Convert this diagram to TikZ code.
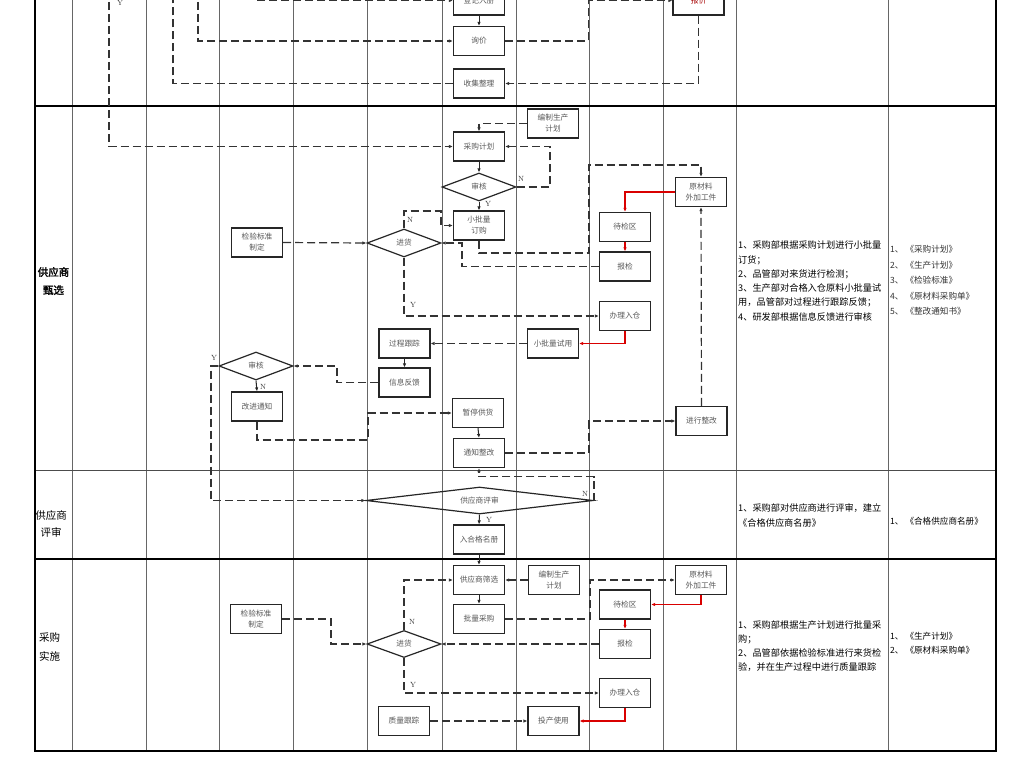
\documentclass[tikz,border=0pt]{standalone}
\usepackage{fontspec}
\newfontfamily\cjk[AutoFakeBold=2]{Noto Sans CJK SC}
\usetikzlibrary{arrows.meta,shapes.geometric}
\begin{document}
\begin{tikzpicture}[x=1pt,y=-1pt,
 box/.style={draw=black!85, line width=1.2pt, fill=white, minimum width=51pt, minimum height=29pt, inner sep=0pt, align=center, text=black!65, font=\cjk\fontsize{7.7}{11}\selectfont},
 dia/.style={diamond, draw=black!85, line width=1.2pt, inner sep=0pt, aspect=2.6, minimum width=74pt, minimum height=28pt, text=black!65, font=\cjk\fontsize{7.7}{11}\selectfont},
 dl/.style={draw=black!80, line width=1.2pt, dash pattern=on 8pt off 4pt, -{Latex[length=4pt,width=3.5pt]}},
 dn/.style={draw=black!80, line width=1.2pt, dash pattern=on 8pt off 4pt},
 sl/.style={draw=black!85, line width=1pt, -{Latex[length=4pt,width=3.5pt]}},
 rl/.style={draw=red!85!black, line width=1.1pt, -{Latex[length=4pt,width=3.5pt]}},
 yn/.style={font=\fontsize{7.5}{9}\selectfont, text=black!80, inner sep=0pt},
 gridline/.style={draw=black!60, line width=0.9pt},
 frameline/.style={draw=black, line width=1.8pt},
 desc/.style={anchor=west, align=left, inner sep=0pt, text=black, font=\cjk\fontsize{9.2}{14.3}\selectfont},
 docs/.style={anchor=west, align=left, inner sep=0pt, text=black!80, font=\cjk\fontsize{8.6}{15.6}\selectfont},
 stage/.style={align=center, inner sep=0pt, text=black, font=\cjk\fontsize{10.5}{18}\selectfont}
]
\useasboundingbox (0,0) rectangle (1024,768);
\fill[white] (0,0) rectangle (1024,768);

% grid
\foreach \x in {72,146,219,293,367,442,516,589,663,736,888}
  \draw[gridline] (\x,-5) -- (\x,751);
\draw[frameline] (35,106) -- (996,106);
\draw[draw=black!70, line width=1pt] (35,470) -- (996,470);
\draw[frameline] (35,559) -- (996,559);
\draw[frameline] (35,-5) -- (35,751) -- (996,751) -- (996,-5);

% stage labels
\node[stage, font=\cjk\bfseries\fontsize{10.5}{18}\selectfont] (st2) at (53.5,281) {供应商\\甄选};
\node[stage, font=\cjk\fontsize{10.5}{17.5}\selectfont] (st3) at (51,524) {供应商\\评审};
\node[stage, font=\cjk\fontsize{10.5}{18.5}\selectfont] (st4) at (49.5,647) {采购\\实施};

% ---- section 1
\node[box] (djrc) at (479,0.5) {登记入册};
\node[box] (xj) at (479,41) {询价};
\node[box] (sjzl) at (479,83.5) {收集整理};
\node[box, text=red!65!black] (bj) at (698.5,0.5) {报价};
\coordinate (t1) at (198,-10);
\coordinate (t2) at (173,-10);
\coordinate (t3) at (257,0.5);
\coordinate (t4) at (109,-10);
\draw[sl] (djrc.south) -- (xj.north);
\draw[dl] (t1) |- (xj.west);
\draw[dn] (sjzl.west) -| (t2);
\draw[dl] (t3) -- (djrc.west);
\draw[dl] (xj.east) -- (588.5,41) |- (bj.west);
\draw[dl] (bj.south) |- (sjzl.east);
\node[yn] (y0) at (120,3) {Y};

% ---- section 2
\node[box] (bzsc1) at (553,123.5) {编制生产\\计划};
\node[box] (cgjh) at (479,146.5) {采购计划};
\node[dia] (sh1) at (479,187) {审核};
\node[box] (xplg) at (479,225.5) {小批量\\订购};
\node[dia] (jh1) at (404,243) {进货};
\node[box] (jybz1) at (257,242.5) {检验标准\\制定};
\node[box] (ycl1) at (701,192) {原材料\\外加工件};
\node[box] (djq1) at (625,227) {待检区};
\node[box] (bj1) at (625,266.5) {报检};
\node[box] (blrc1) at (625,316) {办理入仓};
\node[box] (xplsy) at (553,343.5) {小批量试用};
\node[box] (gcgz) at (404.5,343.5) {过程跟踪};
\node[box] (xxfk) at (404.5,382.5) {信息反馈};
\node[dia] (sh2) at (256,366) {审核};
\node[box] (gjtz) at (257,406.5) {改进通知};
\node[box] (ztgh) at (478,413) {暂停供货};
\node[box] (tzzg) at (479,453) {通知整改};
\node[box] (jxzg) at (701.5,421) {进行整改};

\draw[dl] (t4) |- (cgjh.west);
\draw[dl] (bzsc1.west) -| (cgjh.north);
\draw[sl] (cgjh.south) -- (sh1.north);
\draw[dl] (sh1.east) -- (550,187) |- (cgjh.east);
\draw[sl] (sh1.south) -- (xplg.north);
\draw[dl] (jybz1.east) -- (jh1.west);
\draw[dl] (jh1.north) |- (441,211) |- (xplg.west);
\draw[dl] (xplg.south) |- (589,253) |- (701,165) -- (ycl1.north);
\draw[rl] (ycl1.west) -| (djq1.north);
\draw[rl] (djq1.south) -- (bj1.north);
\draw[dl] (bj1.west) -| (462,243) -- (jh1.east);
\draw[dl] (jh1.south) |- (blrc1.west);
\draw[rl] (blrc1.south) |- (xplsy.east);
\draw[dl] (xplsy.west) -- (gcgz.east);
\draw[sl] (gcgz.south) -- (xxfk.north);
\draw[dl] (xxfk.west) -| (337,366) -- (sh2.east);
\draw[sl] (sh2.south) -- (gjtz.north);
\draw[dl] (gjtz.south) |- (368,440) |- (ztgh.west);
\draw[sl] (ztgh.south) -- (tzzg.north);
\draw[dl] (tzzg.east) -| (589,421) -- (jxzg.west);
\draw[dl] (jxzg.north) -- (ycl1.south);
\node[yn] (n1) at (521,179) {N};
\node[yn] (y1) at (488,204) {Y};
\node[yn] (n2) at (410,220) {N};
\node[yn] (y2) at (413,305) {Y};
\node[yn] (y3) at (214,358) {Y};
\node[yn] (n3) at (263,387) {N};

% ---- section 3
\node[diamond, draw=black!85, line width=1.2pt, inner sep=0pt, aspect=8, minimum width=227pt, minimum height=27pt, text=black!65, font=\cjk\fontsize{7.7}{11}\selectfont] (pssh) at (479.5,500.5) {供应商评审};
\node[box] (rhgmc) at (479,539.5) {入合格名册};
\draw[dl] (sh2.west) -| (211,500.5) -- (pssh.west);
\draw[sl] (pssh.south) -- (rhgmc.north);
\draw[dl] (pssh.east) -| (594,476.5) -| (tzzg.south);
\node[yn] (n4) at (585,494) {N};
\node[yn] (y4) at (489,520) {Y};

% ---- section 4
\node[box] (gyssx) at (479,580) {供应商筛选};
\node[box] (bzsc2) at (554,580) {编制生产\\计划};
\node[box] (plcg) at (479,619) {批量采购};
\node[box] (ycl2) at (701,580) {原材料\\外加工件};
\node[box] (djq2) at (625,604.5) {待检区};
\node[box] (bj2) at (625,644) {报检};
\node[dia, minimum height=27pt] (jh2) at (404,644) {进货};
\node[box] (jybz2) at (256,619) {检验标准\\制定};
\node[box] (blrc2) at (625,693) {办理入仓};
\node[box] (tcsy) at (553.5,721) {投产使用};
\node[box] (zlgz) at (404,721) {质量跟踪};

\draw[sl] (rhgmc.south) -- (gyssx.north);
\draw[dl] (bzsc2.west) -- (gyssx.east);
\draw[sl] (gyssx.south) -- (plcg.north);
\draw[dl] (plcg.east) -| (590,580) -- (ycl2.west);
\draw[rl] (ycl2.south) |- (djq2.east);
\draw[rl] (djq2.south) -- (bj2.north);
\draw[dl] (bj2.west) -- (jh2.east);
\draw[dl] (jybz2.east) -| (331,644) -- (jh2.west);
\draw[dl] (jh2.north) |- (gyssx.west);
\draw[dl] (jh2.south) |- (blrc2.west);
\draw[rl] (blrc2.south) |- (tcsy.east);
\draw[dl] (zlgz.east) -- (tcsy.west);
\node[yn] (n5) at (412,622) {N};
\node[yn] (y5) at (413,685) {Y};

% ---- text columns
\node[desc] (d2) at (738,281) {1、采购部根据采购计划进行小批量\\订货；\\2、品管部对来货进行检测；\\3、生产部对合格入仓原料小批量试\\用，品管部对过程进行跟踪反馈；\\4、研发部根据信息反馈进行审核};
\node[docs] (f2) at (890,280.5) {1、 《采购计划》\\2、 《生产计划》\\3、 《检验标准》\\4、 《原材料采购单》\\5、 《整改通知书》};
\node[desc, font=\cjk\fontsize{9.2}{15}\selectfont] (d3) at (738,515) {1、采购部对供应商进行评审，建立\\《合格供应商名册》};
\node[docs, text=black] (f3) at (890,521) {1、 《合格供应商名册》};
\node[desc, font=\cjk\fontsize{9.2}{14.1}\selectfont] (d4) at (738,646) {1、采购部根据生产计划进行批量采\\购；\\2、品管部依据检验标准进行来货检\\验，并在生产过程中进行质量跟踪};
\node[docs, text=black, font=\cjk\fontsize{8.6}{14.7}\selectfont] (f4) at (890,643.3) {1、 《生产计划》\\2、 《原材料采购单》};
\end{tikzpicture}
\end{document}
